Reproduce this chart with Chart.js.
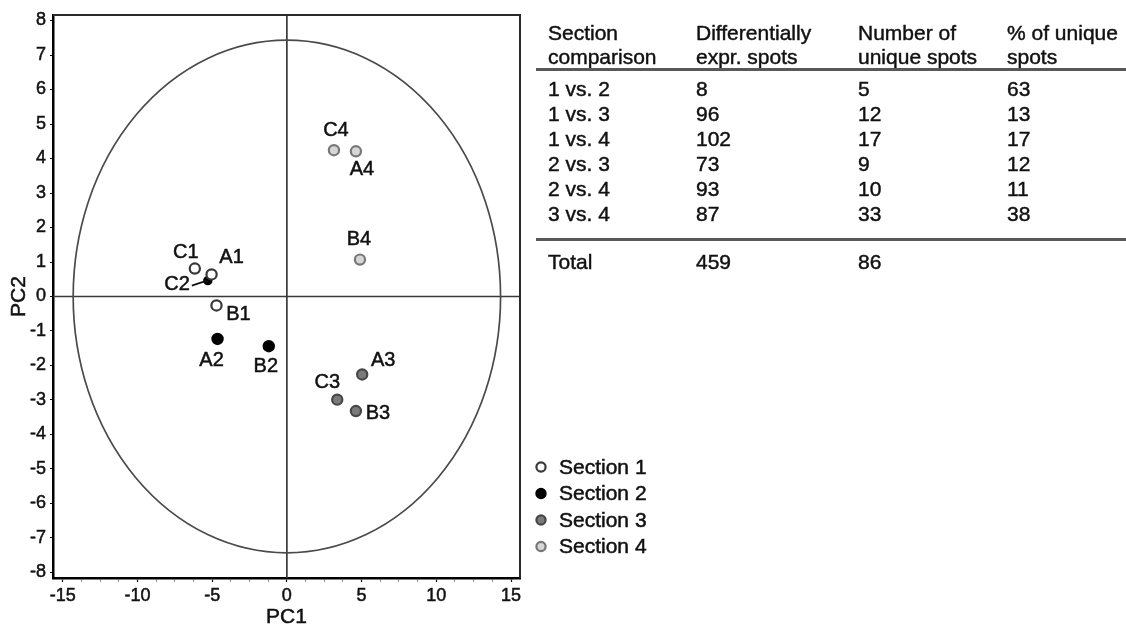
<!DOCTYPE html>
<html>
<head>
<meta charset="utf-8">
<script src="https://cdn.jsdelivr.net/npm/chart.js@4.4.1/dist/chart.umd.min.js"></script>
<style>
  html, body { margin: 0; padding: 0; background: #ffffff; }
  #wrap { position: relative; width: 1126px; height: 628px; overflow: hidden;
          font-family: "Liberation Sans", Arial, Helvetica, sans-serif; color: #111; }
  #c { position: absolute; left: 0; top: 0; }
  .cell { position: absolute; white-space: nowrap; font-size: 21px; line-height: 24px;
          -webkit-text-stroke: 0.45px #111; }
  .rule { position: absolute; left: 536px; right: 0; height: 3px; background: #585858; }
</style>
</head>
<body>
<div id="wrap">
  <canvas id="c" width="1126" height="628"></canvas>
  <div id="tbl"></div>
</div>
<script>
// PCA scores (PC1, PC2) for the three samples (A, B, C) of each section
const section1Labels = ['A1', 'B1', 'C1'];
const section1PC1 = [-5.04, -4.71, -6.16];
const section1PC2 = [0.64, -0.26, 0.81];

const section2Labels = ['A2', 'B2', 'C2'];
const section2PC1 = [-4.64, -1.21, -5.29];
const section2PC2 = [-1.23, -1.44, 0.46];

const section3Labels = ['A3', 'B3', 'C3'];
const section3PC1 = [5.04, 4.62, 3.37];
const section3PC2 = [-2.26, -3.32, -2.99];

const section4Labels = ['A4', 'B4', 'C4'];
const section4PC1 = [4.62, 4.89, 3.15];
const section4PC2 = [4.21, 1.07, 4.24];

const sectionNames = ['Section 1', 'Section 2', 'Section 3', 'Section 4'];

// Hotelling confidence ellipse semi-axes (PC units), centred on the origin
const ellipsePC1 = 14.3;
const ellipsePC2 = 7.43;

// Axis ticks
const xMajorTicks = [-15, -10, -5, 0, 5, 10, 15];
const xMinorStep = 1.25;
const yTicks = [-8, -7, -6, -5, -4, -3, -2, -1, 0, 1, 2, 3, 4, 5, 6, 7, 8];

// Table of differentially expressed spots
const tableHeaders = [
  ['Section', 'comparison'],
  ['Differentially', 'expr. spots'],
  ['Number of', 'unique spots'],
  ['% of unique', 'spots']
];
const comparisons = ['1 vs. 2', '1 vs. 3', '1 vs. 4', '2 vs. 3', '2 vs. 4', '3 vs. 4'];
const diffExprSpots = [8, 96, 102, 73, 93, 87];
const uniqueSpots = [5, 12, 17, 9, 10, 33];
const pctUniqueSpots = [63, 13, 17, 12, 11, 38];
const totalRow = ['Total', 459, 86, ''];

// ---------- styling ----------
const FONT = '"Liberation Sans", Arial, Helvetica, sans-serif';
const INK = '#111111';
const sectionStyles = [
  { fill: '#ffffff', stroke: '#383838' },
  { fill: '#000000', stroke: '#000000' },
  { fill: '#7a7a7a', stroke: '#474747' },
  { fill: '#d6d6d6', stroke: '#777777' }
];
const smallMarkers = ['C2'];

// label placement relative to each point (pixels)
const labelPlacement = {
  A1: { dx: 20, dy: -17 }, B1: { dx: 22, dy: 9 },  C1: { dx: -9, dy: -16 },
  A2: { dx: -6, dy: 22 },  B2: { dx: -3, dy: 20 }, C2: { dx: -18, dy: 4, align: 'right', leader: true },
  A3: { dx: 21, dy: -14 }, B3: { dx: 22, dy: 2 },  C3: { dx: -10, dy: -17 },
  A4: { dx: 6, dy: 18 },   B4: { dx: -1, dy: -20 }, C4: { dx: 2, dy: -20 }
};

const sectionData = [
  [section1Labels, section1PC1, section1PC2],
  [section2Labels, section2PC1, section2PC2],
  [section3Labels, section3PC1, section3PC2],
  [section4Labels, section4PC1, section4PC2]
];

const datasets = sectionData.map(([labels, pc1, pc2], s) => ({
  label: sectionNames[s],
  data: pc1.map((x, i) => ({ x: x, y: pc2[i] })),
  pointLabels: labels,
  backgroundColor: sectionStyles[s].fill,
  borderColor: sectionStyles[s].stroke,
  pointBackgroundColor: sectionStyles[s].fill,
  pointBorderColor: sectionStyles[s].stroke,
  pointBorderWidth: 2.2,
  pointRadius: (ctx) => smallMarkers.includes(labels[ctx.dataIndex]) ? 3.6 : 5.1,
  showLine: false
}));

// zero lines, ellipse and the top/right frame drawn beneath the markers
const framePlugin = {
  id: 'pcaFrame',
  beforeDatasetsDraw(chart) {
    const { ctx, chartArea: a, scales: { x, y } } = chart;
    ctx.save();
    const x0 = x.getPixelForValue(0), y0 = y.getPixelForValue(0);
    ctx.strokeStyle = '#3a3a3a';
    ctx.lineWidth = 1.7;
    ctx.beginPath();
    ctx.moveTo(x0, a.top); ctx.lineTo(x0, a.bottom);
    ctx.moveTo(a.left, y0); ctx.lineTo(a.right, y0);
    ctx.stroke();

    const rx = x.getPixelForValue(ellipsePC1) - x0;
    const ry = y0 - y.getPixelForValue(ellipsePC2);
    ctx.strokeStyle = '#4a4a4a';
    ctx.lineWidth = 1.7;
    ctx.beginPath();
    ctx.ellipse(x0, y0, rx, ry, 0, 0, Math.PI * 2);
    ctx.stroke();

    ctx.strokeStyle = '#2a2a2a';
    ctx.lineWidth = 2;
    ctx.beginPath();
    ctx.moveTo(a.left, a.top); ctx.lineTo(a.right, a.top); ctx.lineTo(a.right, a.bottom);
    ctx.stroke();
    ctx.restore();
  }
};

function inkText(ctx, text, x, y) {
  ctx.fillText(text, x, y);
  ctx.strokeText(text, x, y);
}

// sample names next to each marker
const pointLabelPlugin = {
  id: 'pointLabels',
  afterDatasetsDraw(chart) {
    const { ctx } = chart;
    ctx.save();
    ctx.font = '20px ' + FONT;
    ctx.fillStyle = INK;
    ctx.strokeStyle = INK;
    ctx.lineWidth = 0.5;
    ctx.textBaseline = 'middle';
    chart.data.datasets.forEach((ds, d) => {
      const meta = chart.getDatasetMeta(d);
      meta.data.forEach((pt, i) => {
        const name = ds.pointLabels[i];
        const p = labelPlacement[name];
        ctx.textAlign = p.align || 'center';
        ctx.lineWidth = 0.5;
        inkText(ctx, name, pt.x + p.dx, pt.y + p.dy);
        if (p.leader) {
          ctx.lineWidth = 1.6;
          ctx.beginPath();
          ctx.moveTo(pt.x + p.dx + 2, pt.y + p.dy + 1);
          ctx.lineTo(pt.x - 1, pt.y);
          ctx.stroke();
        }
      });
    });
    ctx.restore();
  }
};

// section legend to the right of the plot
const legendPlugin = {
  id: 'sectionLegend',
  afterDraw(chart) {
    const { ctx } = chart;
    ctx.save();
    ctx.font = '21px ' + FONT;
    ctx.textAlign = 'left';
    ctx.textBaseline = 'middle';
    chart.data.datasets.forEach((ds, i) => {
      const cy = 467 + i * 26.5;
      ctx.beginPath();
      ctx.arc(541, cy, 4.6, 0, Math.PI * 2);
      ctx.fillStyle = ds.pointBackgroundColor;
      ctx.fill();
      ctx.lineWidth = 2.2;
      ctx.strokeStyle = ds.pointBorderColor;
      ctx.stroke();
      ctx.fillStyle = INK;
      ctx.strokeStyle = INK;
      ctx.lineWidth = 0.5;
      inkText(ctx, ds.label, 559, cy + 1);
    });
    ctx.restore();
  }
};

// heavier axis titles
const titleInkPlugin = {
  id: 'titleInk',
  afterDraw(chart) {
    const { ctx, chartArea: a, scales: { x } } = chart;
    ctx.save();
    ctx.strokeStyle = INK;
    ctx.lineWidth = 0.5;
    ctx.font = '21px ' + FONT;
    ctx.textAlign = 'center';
    ctx.textBaseline = 'middle';
    ctx.strokeText('PC1', (a.left + a.right) / 2, 617.5);
    ctx.translate(19.5, (a.top + a.bottom) / 2);
    ctx.rotate(-Math.PI / 2);
    ctx.strokeText('PC2', 0, 0);
    ctx.restore();
  }
};

new Chart(document.getElementById('c'), {
  type: 'scatter',
  data: { datasets },
  options: {
    responsive: false,
    animation: false,
    events: [],
    layout: { padding: { left: 0, top: 15, right: 606, bottom: 0 } },
    plugins: { legend: { display: false }, tooltip: { enabled: false } },
    scales: {
      x: {
        type: 'linear',
        min: -15.65,
        max: 15.6,
        afterFit: (s) => { s.height = 50; },
        afterBuildTicks: (s) => {
          const t = [];
          for (let v = xMajorTicks[0]; v <= xMajorTicks[xMajorTicks.length - 1] + 1e-9; v += xMinorStep) t.push({ value: v });
          s.ticks = t;
        },
        grid: {
          drawOnChartArea: false,
          drawTicks: true,
          tickLength: 4,
          tickWidth: 1.2,
          tickColor: (c) => xMajorTicks.includes(c.tick && c.tick.value) ? '#111' : '#9a9a9a'
        },
        border: { display: true, color: '#000', width: 2.5 },
        ticks: {
          autoSkip: false,
          maxRotation: 0,
          padding: 3,
          color: INK,
          textStrokeColor: INK,
          textStrokeWidth: 0.5,
          font: { family: FONT, size: 18 },
          callback: (v) => xMajorTicks.includes(v) ? String(v) : ''
        },
        title: { display: true, text: 'PC1', color: INK, font: { family: FONT, size: 21, lineHeight: 1 }, padding: { top: 0, bottom: 0 } }
      },
      y: {
        type: 'linear',
        min: -8.16,
        max: 8.16,
        afterFit: (s) => { s.width = 53; },
        afterBuildTicks: (s) => { s.ticks = yTicks.map((v) => ({ value: v })); },
        grid: { drawOnChartArea: false, drawTicks: true, tickLength: 3, tickColor: '#111' },
        border: { display: true, color: '#000', width: 2.5 },
        ticks: {
          autoSkip: false,
          padding: 4,
          color: INK,
          textStrokeColor: INK,
          textStrokeWidth: 0.5,
          font: { family: FONT, size: 18 },
          callback: (v) => String(v)
        },
        title: { display: true, text: 'PC2', color: INK, font: { family: FONT, size: 21, lineHeight: 1 }, padding: { top: 9, bottom: 0 } }
      }
    }
  },
  plugins: [framePlugin, pointLabelPlugin, legendPlugin, titleInkPlugin]
});

// ---------- summary table ----------
(function buildTable() {
  const host = document.getElementById('tbl');
  const colX = [548, 696, 858, 1007];
  const add = (text, x, top, html) => {
    const d = document.createElement('div');
    d.className = 'cell';
    d.style.left = x + 'px';
    d.style.top = top + 'px';
    if (html) d.innerHTML = text; else d.textContent = text;
    host.appendChild(d);
  };
  tableHeaders.forEach((h, c) => add(h[0] + '<br>' + h[1], colX[c], 21, true));
  comparisons.forEach((name, r) => {
    const top = 77 + r * 25;
    [name, diffExprSpots[r], uniqueSpots[r], pctUniqueSpots[r]].forEach((v, c) => add(String(v), colX[c], top));
  });
  totalRow.forEach((v, c) => add(String(v), colX[c], 250));
  [68, 238].forEach((y) => {
    const r = document.createElement('div');
    r.className = 'rule';
    r.style.top = y + 'px';
    host.appendChild(r);
  });
})();
</script>
</body>
</html>
